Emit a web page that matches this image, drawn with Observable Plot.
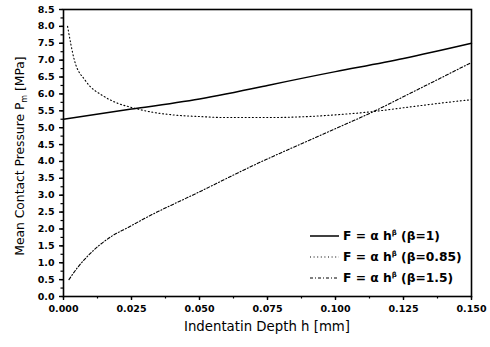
<!DOCTYPE html>
<html>
<head>
<meta charset="utf-8">
<script src="https://cdn.jsdelivr.net/npm/d3@7"></script>
<script src="https://cdn.jsdelivr.net/npm/@observablehq/plot@0.6"></script>
<style>
  html, body { margin: 0; padding: 0; background: #fff; }
  #chart { position: relative; width: 490px; height: 347px; }
  #chart svg { position: absolute; left: 0; top: 0; }
</style>
</head>
<body>
<div id="chart"></div>
<script>
// Data
const hBeta1 = [0, 0.025, 0.05, 0.075, 0.1, 0.125, 0.15];
const pBeta1 = [5.25, 5.55, 5.85, 6.25, 6.66, 7.05, 7.5];

const hBeta085 = [0.0015, 0.004, 0.008, 0.015, 0.02, 0.025, 0.03, 0.04, 0.05, 0.06, 0.075, 0.09, 0.1, 0.113, 0.126, 0.14, 0.15];
const pBeta085 = [8.0, 7.0, 6.4, 5.92, 5.72, 5.6, 5.5, 5.38, 5.33, 5.3, 5.3, 5.33, 5.38, 5.47, 5.6, 5.74, 5.83];

const hBeta15 = [0.002, 0.005, 0.0087, 0.018, 0.0234, 0.03, 0.05, 0.0695, 0.098, 0.113, 0.128, 0.15];
const pBeta15 = [0.5, 0.84, 1.18, 1.8, 2.03, 2.32, 3.1, 3.87, 4.9, 5.44, 6.04, 6.93];

const xTicks = [0, 0.025, 0.05, 0.075, 0.1, 0.125, 0.15];
const yTicks = d3.range(0, 8.51, 0.5);
const xMinor = d3.range(0, 0.1501, 0.0125);
const yMinor = d3.range(0, 8.51, 0.25);

const xTitle = "Indentatin Depth h [mm]";
const yTitleMain = "Mean Contact Pressure P";
const yTitleSub = "m";
const yTitleUnit = " [MPa]";

const seriesNames = ["β=1", "β=0.85", "β=1.5"];
const dashes = [null, "1,2.6", "3,2,1,2"];
const widths = [1.5, 1.1, 1.1];

const toRows = (hs, ps, s) => hs.map((h, i) => ({h, p: ps[i], s}));
const s1 = toRows(hBeta1, pBeta1, seriesNames[0]);
const s2 = toRows(hBeta085, pBeta085, seriesNames[1]);
const s3 = toRows(hBeta15, pBeta15, seriesNames[2]);

const FONT = "DejaVu Sans, Verdana, sans-serif";

const plot = Plot.plot({
  width: 490,
  height: 347,
  marginLeft: 63,
  marginRight: 19,
  marginTop: 9,
  marginBottom: 51,
  style: {fontFamily: FONT, background: "#fff", color: "#000"},
  x: {domain: [0, 0.15], label: null},
  y: {domain: [0, 8.5], label: null},
  marks: [
    Plot.frame({stroke: "#000", strokeWidth: 1.6}),
    Plot.axisX(xMinor, {tickSize: 2.5, text: null, label: null, strokeWidth: 1.2}),
    Plot.axisX(xTicks, {tickSize: 4, tickFormat: d3.format(".3f"), fontSize: 9.5, fontWeight: "bold", tickPadding: 5, strokeWidth: 1.4, label: null}),
    Plot.axisY(yMinor, {tickSize: 2.5, text: null, label: null, strokeWidth: 1.2}),
    Plot.axisY(yTicks, {tickSize: 4, tickFormat: d3.format(".1f"), fontSize: 9.5, fontWeight: "bold", tickPadding: 5, strokeWidth: 1.4, label: null}),
    Plot.line(s1, {x: "h", y: "p", stroke: "#000", strokeWidth: widths[0], curve: "natural"}),
    Plot.line(s2, {x: "h", y: "p", stroke: "#000", strokeWidth: widths[1], strokeDasharray: dashes[1], curve: "monotone-x"}),
    Plot.line(s3, {x: "h", y: "p", stroke: "#000", strokeWidth: widths[2], strokeDasharray: dashes[2], curve: "monotone-x"})
  ]
});
document.getElementById("chart").appendChild(plot);

const svg = d3.select(plot);

// x-axis title
svg.append("text")
  .attr("x", 267).attr("y", 331)
  .attr("text-anchor", "middle")
  .attr("font-size", 13.3)
  .attr("fill", "#000")
  .text(xTitle);

// y-axis title with subscript
const yt = svg.append("text")
  .attr("transform", "translate(24,156) rotate(-90)")
  .attr("text-anchor", "middle")
  .attr("font-size", 12.3)
  .attr("fill", "#000");
yt.append("tspan").text(yTitleMain);
yt.append("tspan").attr("font-size", 8).attr("dy", 3).text(yTitleSub);
yt.append("tspan").attr("dy", -3).text(yTitleUnit);

// legend
const legend = svg.append("g").attr("font-size", 12.3).attr("font-weight", "bold").attr("text-anchor", "start");
const rowsY = [236, 257, 278];
seriesNames.forEach((name, i) => {
  const y = rowsY[i];
  const ln = legend.append("line").attr("x1", 310).attr("x2", 339).attr("y1", y).attr("y2", y)
    .attr("stroke", "#000").attr("stroke-width", widths[i]);
  if (dashes[i]) ln.attr("stroke-dasharray", dashes[i]);
  const t = legend.append("text").attr("x", 343).attr("y", y).attr("dy", "0.35em");
  t.append("tspan").text("F = α h");
  t.append("tspan").attr("font-size", 7).attr("dy", -5).text("β");
  t.append("tspan").attr("dy", 5).text(" (" + name + ")");
});
</script>
</body>
</html>
